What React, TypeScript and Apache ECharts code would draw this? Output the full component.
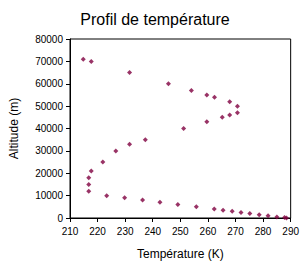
import React, { useEffect, useRef } from "react";
import * as echarts from "echarts";

const temperatures = [
  214.8, 217.7, 231.6, 245.7, 254.0, 259.6, 262.4, 267.9, 270.7, 270.7,
  267.9, 265.2, 259.6, 251.2, 237.3, 231.6, 226.6, 221.9, 217.7, 216.8,
  216.8, 216.8, 223.3, 229.8, 236.3, 242.6, 249.1, 255.8, 262.3, 265.5,
  268.8, 272.0, 275.2, 278.6, 281.8, 285.0, 287.8, 288.5,
];
const altitudes = [
  71000, 70000, 65000, 60000, 57000, 55000, 54000, 52000, 50000, 47000,
  46000, 45000, 43000, 40000, 35000, 33000, 30000, 25000, 21000, 18000,
  15000, 12000, 10000, 9000, 8000, 7000, 6000, 5000, 4000, 3500,
  3000, 2500, 2000, 1500, 1000, 500, 200, 0,
];

const title = "Profil de température";
const xName = "Température (K)";
const yName = "Altitude (m)";

export default function App() {
  const ref = useRef<HTMLDivElement>(null);
  useEffect(() => {
    document.body.style.margin = "0";
    if (!ref.current) return;
    const chart = echarts.init(ref.current, null, { renderer: "svg" });
    const data = temperatures.map((t, i) => [t, altitudes[i]]);
    const font = "Arial, 'Liberation Sans', sans-serif";
    chart.setOption({
      animation: false,
      backgroundColor: "#ffffff",
      title: {
        text: title,
        left: 150,
        textAlign: "center",
        top: 6,
        textStyle: { fontSize: 16, fontWeight: "normal", color: "#000", fontFamily: font },
      },
      grid: {
        left: 62,
        right: 9,
        top: 39,
        bottom: 46,
        show: true,
        borderColor: "#000",
        borderWidth: 1,
        backgroundColor: "transparent",
      },
      xAxis: {
        type: "value",
        min: 210,
        max: 290,
        interval: 10,
        name: xName,
        nameLocation: "middle",
        nameGap: 30,
        nameTextStyle: { fontSize: 12, color: "#000", fontFamily: font },
        axisLine: { show: true, lineStyle: { color: "#000" } },
        axisTick: { show: true, length: 4, lineStyle: { color: "#000" } },
        axisLabel: { fontSize: 10, color: "#000", fontFamily: font, margin: 8, formatter: (v: number) => String(v) },
        splitLine: { show: false },
      },
      yAxis: {
        type: "value",
        min: 0,
        max: 80000,
        interval: 10000,
        name: yName,
        nameLocation: "middle",
        nameGap: 50,
        nameTextStyle: { fontSize: 12, color: "#000", fontFamily: font },
        axisLine: { show: true, lineStyle: { color: "#000" } },
        axisTick: { show: true, length: 4, lineStyle: { color: "#000" } },
        axisLabel: { fontSize: 10, color: "#000", fontFamily: font, margin: 7, formatter: (v: number) => String(v) },
        splitLine: { show: false },
      },
      series: [
        {
          type: "scatter",
          data,
          symbol: "diamond",
          symbolSize: 5,
          itemStyle: { color: "#800040" },
        },
      ],
    });
    return () => chart.dispose();
  }, []);
  return <div ref={ref} style={{ width: 302, height: 265 }} />;
}
